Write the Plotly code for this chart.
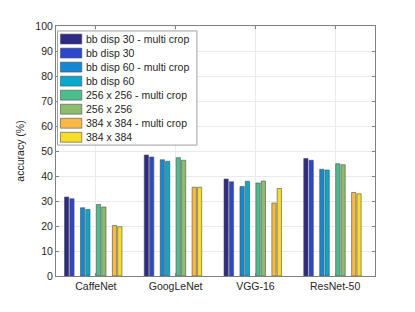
import plotly.graph_objects as go

categories = ["CaffeNet", "GoogLeNet", "VGG-16", "ResNet-50"]
series_names = [
    "bb disp 30 - multi crop",
    "bb disp 30",
    "bb disp 60 - multi crop",
    "bb disp 60",
    "256 x 256 - multi crop",
    "256 x 256",
    "384 x 384 - multi crop",
    "384 x 384",
]
bb30_multi = [31.6, 48.4, 38.8, 47.0]
bb30 = [30.9, 47.6, 37.7, 46.3]
bb60_multi = [27.3, 46.5, 35.8, 42.7]
bb60 = [26.6, 45.9, 37.9, 42.4]
s256_multi = [28.6, 47.3, 37.2, 44.9]
s256 = [27.6, 46.3, 38.0, 44.5]
s384_multi = [20.2, 35.5, 29.2, 33.4]
s384 = [19.7, 35.5, 35.0, 32.9]
yticks = [0, 10, 20, 30, 40, 50, 60, 70, 80, 90, 100]

series_values = [bb30_multi, bb30, bb60_multi, bb60, s256_multi, s256, s384_multi, s384]
colors = ["#2f2a86", "#2c47cc", "#1587d5", "#07a8cc", "#4cbd8c", "#8cbd6e", "#fab946", "#f8dc2a"]

# page body has an 8px default margin; compensate
OFF = 8
W, H = 415 - 2 * OFF, 312 - 2 * OFF
ml, mt = 54 - OFF, 24 - OFF
pw, ph = 321.5, 253
mr = W - ml - pw
mb = H - mt - ph

fig = go.Figure()
xs = list(range(1, len(categories) + 1))
slot = 0.8 / 12
for j, (name, vals) in enumerate(zip(series_names, series_values)):
    k = j + j // 2
    fig.add_trace(go.Bar(
        x=xs, y=vals, name=name,
        offset=-0.4 + k * slot + 0.1 * slot,
        width=0.8 * slot,
        marker=dict(color=colors[j], line=dict(color="#4d4d4d", width=0.6)),
        showlegend=False,
    ))

# custom legend (MATLAB-style wide swatches), positions given in page pixels
def px2x(px):
    return (px - OFF - ml) / pw
def py2y(py):
    return (mt + ph - (py - OFF)) / ph

shapes = []
annotations = []
shapes.append(dict(type="rect", xref="paper", yref="paper",
                   x0=px2x(55.5), x1=px2x(196), y0=py2y(29), y1=py2y(144.5),
                   fillcolor="white", line=dict(color="#a0a0a0", width=1), layer="above"))
for i, name in enumerate(series_names):
    cy = 37.2 + i * 14.2
    shapes.append(dict(type="rect", xref="paper", yref="paper",
                       x0=px2x(58.5), x1=px2x(80), y0=py2y(cy - 5), y1=py2y(cy + 5),
                       fillcolor=colors[i], line=dict(color="#4d4d4d", width=0.6), layer="above"))
    annotations.append(dict(xref="paper", yref="paper", x=px2x(82), y=py2y(cy),
                            text=name, showarrow=False, xanchor="left", yanchor="middle",
                            font=dict(family="Liberation Sans, Arial", size=10.5, color="#262626")))

fig.update_layout(
    width=W, height=H,
    margin=dict(l=ml, r=mr, t=mt, b=mb, pad=0),
    paper_bgcolor="white", plot_bgcolor="white",
    font=dict(family="Liberation Sans, Arial", size=10.5, color="#262626"),
    barmode="overlay",
    shapes=shapes, annotations=annotations,
    showlegend=False,
)
fig.update_xaxes(
    range=[0.5, 4.5], tickvals=xs, ticktext=categories,
    showgrid=True, gridcolor="#ebebeb", gridwidth=1,
    showline=True, linecolor="#808080", linewidth=1, mirror="ticks",
    ticks="inside", ticklen=3, tickcolor="#808080",
    tickfont=dict(size=10.5, color="#262626"), zeroline=False,
)
fig.update_yaxes(
    range=[0, 100], tickvals=yticks,
    showgrid=True, gridcolor="#ebebeb", gridwidth=1,
    showline=True, linecolor="#808080", linewidth=1, mirror="ticks",
    ticks="inside", ticklen=3, tickcolor="#808080",
    tickfont=dict(size=10.5, color="#262626"), zeroline=False,
    title=dict(text="accuracy (%)", font=dict(size=10.5, color="#262626"), standoff=8),
)

fig.write_html("out.html")
